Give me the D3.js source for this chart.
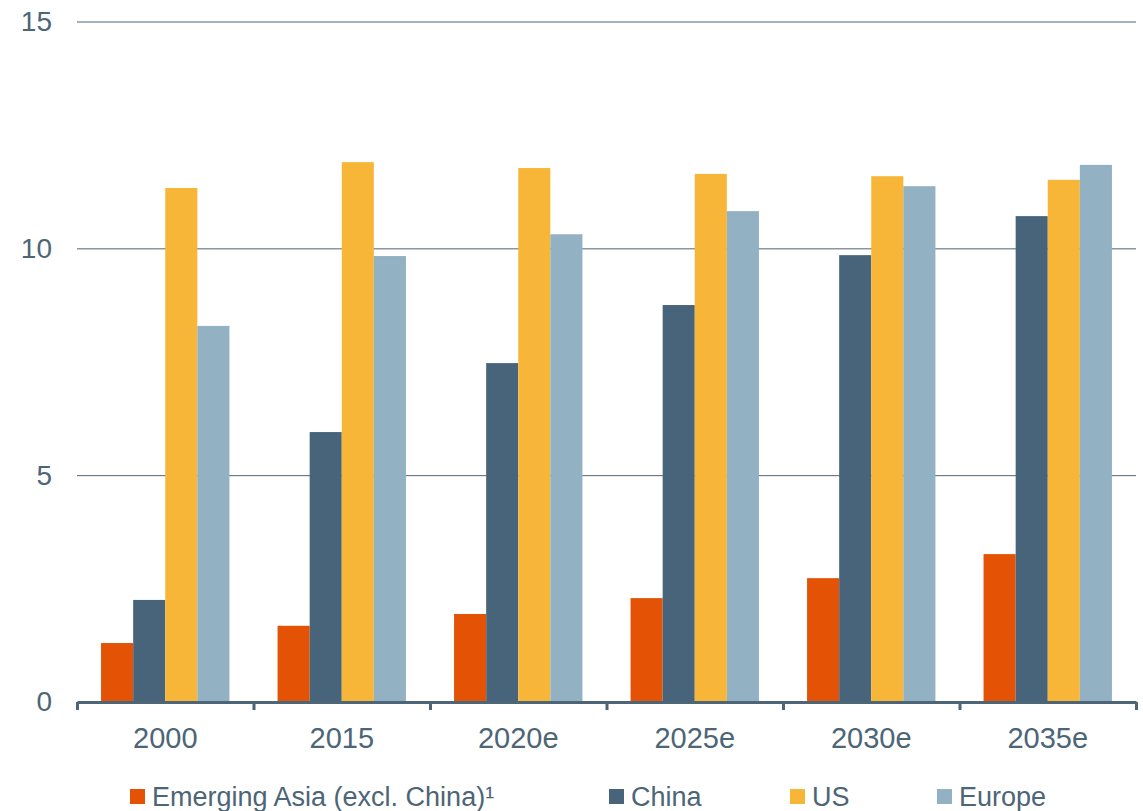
<!DOCTYPE html>
<html>
<head>
<meta charset="utf-8">
<script src="https://cdn.jsdelivr.net/npm/d3@7"></script>
<style>
  body { margin: 0; background: #fff; }
  svg { display: block; font-family: "Liberation Sans", Arial, sans-serif; }
  .axis text { fill: #4c6577; }
</style>
</head>
<body>
<div id="chart"></div>
<script>
// data
const categories = ["2000", "2015", "2020e", "2025e", "2030e", "2035e"];
const seriesNames = ["Emerging Asia (excl. China)\u00b9", "China", "US", "Europe"];
const emergingAsia = [1.30, 1.68, 1.94, 2.29, 2.73, 3.26];
const china = [2.25, 5.95, 7.47, 8.75, 9.85, 10.71];
const us = [11.33, 11.90, 11.77, 11.64, 11.59, 11.51];
const europe = [8.29, 9.83, 10.31, 10.82, 11.37, 11.84];
const yTicks = [0, 5, 10, 15];

const colors = ["#e35205", "#47647a", "#f8b639", "#92b1c2"];
const axisColor = "#4c6577";

const seriesValues = [emergingAsia, china, us, europe];
const rows = categories.map((c, i) => ({
    category: c,
    values: seriesNames.map((s, j) => ({ key: s, idx: j, value: seriesValues[j][i] }))
}));

const W = 1143, H = 811;
const plotLeft = 77, plotRight = 1136, plotTop = 21.5, plotBottom = 702;

const svg = d3.select("#chart").append("svg")
    .attr("width", W)
    .attr("height", H);

const y = d3.scaleLinear().domain([0, 15]).range([plotBottom, plotTop]);

const x0 = d3.scaleBand().domain(categories).range([plotLeft, plotRight]).padding(0);
const x1 = d3.scaleBand().domain(d3.range(seriesNames.length))
    .range([0, x0.bandwidth()])
    .paddingInner(0)
    .paddingOuter(0.75);

// gridlines + y labels
const yAxis = svg.append("g")
    .attr("class", "axis")
    .attr("transform", `translate(${plotLeft},0)`)
    .call(d3.axisLeft(y).tickValues(yTicks).tickSize(-(plotRight - plotLeft)).tickPadding(25));
yAxis.select(".domain").remove();
yAxis.selectAll(".tick line")
    .attr("stroke", axisColor)
    .attr("stroke-width", 1);
yAxis.selectAll(".tick text")
    .attr("font-size", "28px")
    .attr("font-family", "Liberation Sans, Arial, sans-serif");
yAxis.selectAll(".tick").filter(d => d === 0).select("line").remove();

// bars
const groups = svg.append("g").selectAll("g")
    .data(rows)
    .join("g")
    .attr("transform", d => `translate(${x0(d.category)},0)`);

groups.selectAll("rect")
    .data(d => d.values)
    .join("rect")
    .attr("x", d => x1(d.idx))
    .attr("width", x1.bandwidth())
    .attr("y", d => y(d.value))
    .attr("height", d => y(0) - y(d.value))
    .attr("fill", d => colors[d.idx]);

// x axis: line with ticks on band edges
const xEdge = d3.scaleLinear().domain([0, categories.length]).range([plotLeft, plotRight]);
const xTicksAxis = svg.append("g")
    .attr("transform", `translate(0,${plotBottom})`)
    .call(d3.axisBottom(xEdge).tickValues(d3.range(categories.length + 1))
        .tickSize(8).tickSizeOuter(0).tickFormat(""));
xTicksAxis.selectAll("path, line")
    .attr("stroke", axisColor)
    .attr("stroke-width", 3);

const xLabels = svg.append("g")
    .attr("class", "axis")
    .attr("transform", `translate(0,${plotBottom})`)
    .call(d3.axisBottom(x0).tickSize(0).tickPadding(25));
xLabels.select(".domain").remove();
xLabels.selectAll(".tick text")
    .attr("font-size", "29px")
    .attr("font-family", "Liberation Sans, Arial, sans-serif");

// legend
const legendX = [130, 609, 790, 937];
const legend = svg.append("g").selectAll("g")
    .data(seriesNames)
    .join("g")
    .attr("transform", (d, i) => `translate(${legendX[i]},789)`);

legend.append("rect")
    .attr("width", 15)
    .attr("height", 15)
    .attr("fill", (d, i) => colors[i]);

legend.append("text")
    .attr("x", 22)
    .attr("y", 17)
    .attr("font-size", "27px")
    .attr("fill", axisColor)
    .text(d => d);
</script>
</body>
</html>
